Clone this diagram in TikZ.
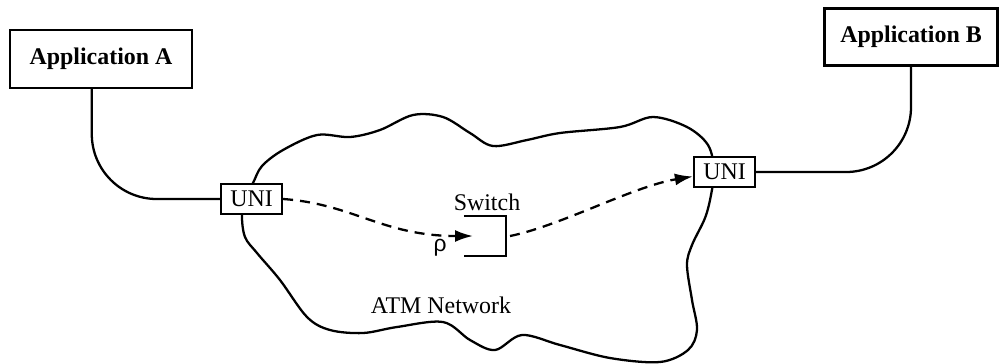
\documentclass[tikz,border=0pt]{standalone}
\usepackage{fontspec}
\setmainfont{Liberation Serif}
\newfontfamily\rhofont{Liberation Sans}
\usetikzlibrary{positioning,arrows.meta}

\begin{document}
\begin{tikzpicture}[
            x=0.02cm, y=-0.02cm,
            line width=1.3pt,
            appbox/.style={draw, minimum width=3.64cm, minimum height=1.16cm, font=\fontsize{13.6}{16}\selectfont\bfseries},
            unibox/.style={draw, fill=white, minimum width=1.22cm, minimum height=0.6cm, inner sep=0pt, font=\fontsize{13.6}{16}\selectfont},
            lbl/.style={font=\fontsize{13.6}{16}\selectfont},
            flow/.style={dash pattern=on 2mm off 1.4mm, -{Latex[length=3.6mm,width=2.4mm]}}
        ]
            \useasboundingbox (0,0) rectangle (1000,363);

            % the network cloud
            \draw plot[smooth cycle, tension=0.55] coordinates {
                (253,183) (262,166) (283,150) (317,135) (350,137) (380,130) (413,115)
                (443,117) (470,133) (493,146) (527,140) (560,133) (620,127) (653,117)
                (687,127) (708,145) (714,170) (711,195) (705,218) (692,245) (687,265)
                (692,300) (697,330) (688,350) (660,362) (610,358) (560,345) (522,335)
                (495,350) (470,340) (443,322) (397,327) (363,333) (330,330) (307,317)
                (280,280) (257,253) (245,237) (242,215) (246,195)};

            \node[appbox] (appA) at (101,59) {Application A};
            \node[appbox, minimum width=3.46cm, minimum height=1.14cm] (appB) at (911,37) {Application B};
            \node[unibox] (uniA) at (251.5,199) {UNI};
            \node[unibox] (uniB) at (724.5,172) {UNI};

            \node[minimum width=0.8cm, minimum height=0.76cm, inner sep=0pt] (switch) at (485,236) {};
            \node[lbl] (swlabel) at (487,202) {Switch};
            \node[font=\rhofont\fontsize{13}{15}\selectfont] (rho) at (440,248) {ρ};
            \node[lbl] (atm) at (441,305) {ATM Network};

            \coordinate (swin) at (473,236);
            \coordinate (swout) at (510,236);

            \draw (switch.north west) -- (switch.north east) -- (switch.south east) -- (switch.south west);

            \draw[rounded corners=1.3cm] (appA.253) |- (uniA.west);
            \draw[rounded corners=1.3cm] (appB.south) |- (uniB.east);

            \draw[flow] (uniA.east) .. controls +(70,5) and +(-90,0) .. (swin);
            \draw[flow] (swout) .. controls +(50,-10) and +(-60,10) .. (uniB.188);

        \end{tikzpicture}
\end{document}
